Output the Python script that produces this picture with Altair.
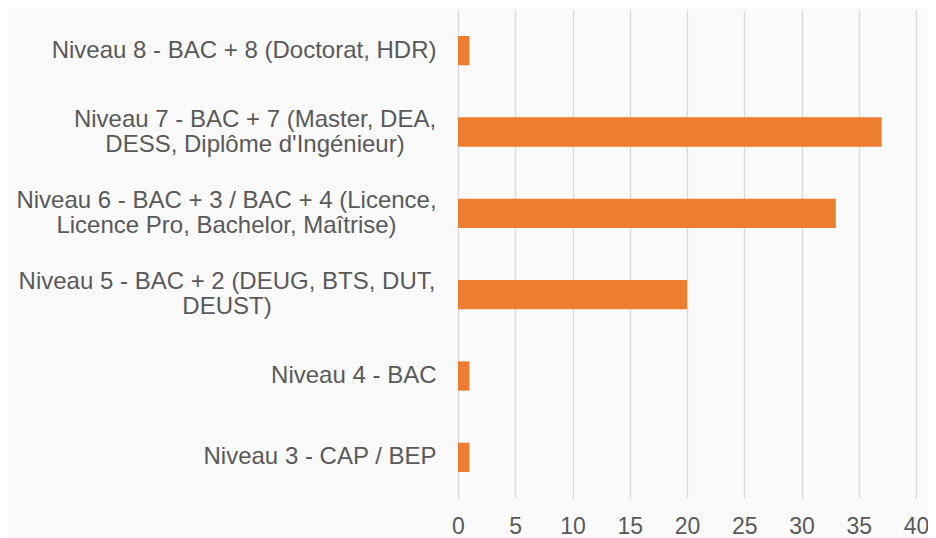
import altair as alt
import pandas as pd

categories = [
    "Niveau 8 - BAC + 8 (Doctorat, HDR)",
    "Niveau 7 - BAC + 7 (Master, DEA,|DESS, Diplôme d'Ingénieur)",
    "Niveau 6 - BAC + 3 / BAC + 4 (Licence,|Licence Pro, Bachelor, Maîtrise)",
    "Niveau 5 - BAC + 2 (DEUG, BTS, DUT,|DEUST)",
    "Niveau 4 - BAC",
    "Niveau 3 - CAP / BEP",
]
values = [1, 37, 33, 20, 1, 1]
x_ticks = [0, 5, 10, 15, 20, 25, 30, 35, 40]

df = pd.DataFrame({"cat": categories, "val": values})

multi = "indexof(datum.value, '|') >= 0"

chart = alt.Chart(df).mark_bar(color="#ED7D31").encode(
    x=alt.X(
        "val:Q",
        scale=alt.Scale(domain=[0, 40], nice=False),
        axis=alt.Axis(
            values=x_ticks,
            title=None,
            grid=True,
            gridColor="#D9D9D9",
            gridWidth=1.3,
            domain=False,
            ticks=False,
            labelFlush=False,
            labelFontSize=23,
            labelFont="Liberation Sans",
            labelColor="#595959",
            labelPadding=17,
        ),
    ),
    y=alt.Y(
        "cat:N",
        sort=categories,
        scale=alt.Scale(paddingInner=0.64, paddingOuter=0.32),
        axis=alt.Axis(
            title=None,
            domain=False,
            ticks=False,
            grid=False,
            labelExpr="split(datum.label, '|')",
            labelFontSize=24,
            labelFont="Liberation Sans",
            labelColor="#595959",
            labelLineHeight=25,
            labelLimit=0,
            labelAlign={"condition": {"test": multi, "value": "center"}, "value": "right"},
            labelPadding={
                "condition": [
                    {"test": "indexof(datum.value, 'Niveau 7') == 0", "value": 203.5},
                    {"test": "indexof(datum.value, 'Niveau 6') == 0", "value": 232},
                    {"test": "indexof(datum.value, 'Niveau 5') == 0", "value": 231.5},
                ],
                "value": 22,
            },
            labelOffset={"condition": {"test": multi, "value": -12.5}, "value": 0},
        ),
    ),
).properties(
    width=458,
    height=488,
    autosize=alt.AutoSizeParams(type="none"),
    padding={"left": 450, "top": 2, "right": 12, "bottom": 40},
    background="#FAFAFA",
).configure_view(stroke=None)

chart.save("out.html", embed_options={"renderer": "svg", "actions": False})
